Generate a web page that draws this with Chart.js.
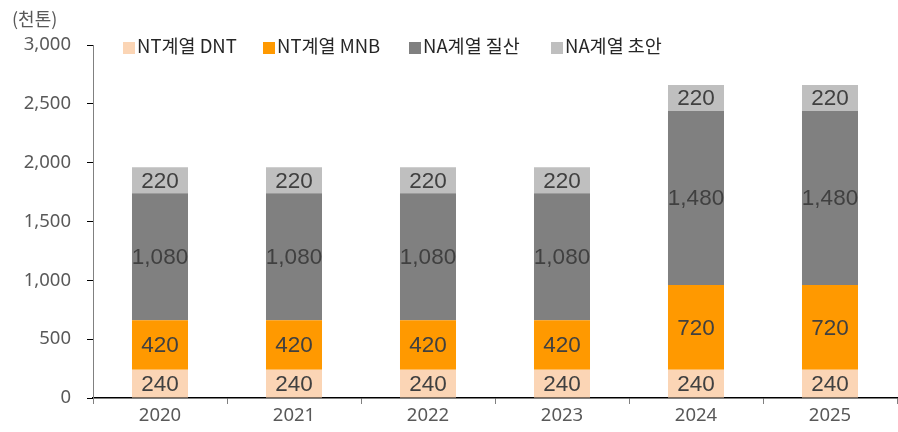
<!DOCTYPE html>
<html><head><meta charset="utf-8">
<script src="https://cdn.jsdelivr.net/npm/chart.js@4/dist/chart.umd.min.js"></script>
<style>
html,body{margin:0;padding:0;background:#fff;}
#wrap{position:relative;width:898px;height:432px;}
#unit{position:absolute;left:12px;top:5px;font:18px "Noto Sans CJK KR","Noto Sans",sans-serif;color:#595959;}
.leg{position:absolute;top:32px;font:18.5px "Noto Sans CJK KR","Noto Sans",sans-serif;color:#262626;white-space:nowrap;line-height:26px;}
.leg i{display:inline-block;width:12px;height:12px;margin-right:2px;vertical-align:-1px;}
</style></head><body>
<div id="wrap">
<canvas id="c" width="898" height="432"></canvas>
<div id="unit">(천톤)</div>
<div id="legend"></div>
</div>
<script>
const categories = ['2020','2021','2022','2023','2024','2025'];
const seriesNames = ['NT계열 DNT','NT계열 MNB','NA계열 질산','NA계열 초안'];
const dnt = [240,240,240,240,240,240];
const mnb = [420,420,420,420,720,720];
const nitric = [1080,1080,1080,1080,1480,1480];
const an = [220,220,220,220,220,220];
const yTicks = [0,500,1000,1500,2000,2500,3000];
const colors = ['#FBD5B5','#FF9900','#808080','#BFBFBF'];
const legendX = [123,263,409,551];

const legEl = document.getElementById('legend');
seriesNames.forEach((n,i)=>{
  const d=document.createElement('div');d.className='leg';d.style.left=legendX[i]+'px';
  d.innerHTML='<i style="background:'+colors[i]+'"></i>'+n;legEl.appendChild(d);
});

const valueLabels = {
  id:'valueLabels',
  afterDatasetsDraw(chart){
    const ctx=chart.ctx;ctx.save();
    ctx.font='22.5px "Liberation Sans", Arial, sans-serif';
    ctx.fillStyle='#404040';ctx.textAlign='center';ctx.textBaseline='middle';
    chart.data.datasets.forEach((ds,di)=>{
      chart.getDatasetMeta(di).data.forEach((el,i)=>{
        const p=el.getProps(['x','y','base'],true);
        ctx.fillText(ds.data[i].toLocaleString('en-US'),p.x,(p.y+p.base)/2+1);
      });
    });
    ctx.restore();
  }
};

const dataArr=[dnt,mnb,nitric,an];
new Chart(document.getElementById('c'),{
  type:'bar',
  data:{labels:categories,datasets:seriesNames.map((n,i)=>({label:n,data:dataArr[i],backgroundColor:colors[i],categoryPercentage:1,barPercentage:0.418}))},
  options:{
    responsive:false,animation:false,
    layout:{padding:{top:45,right:1,left:0,bottom:0}},
    plugins:{legend:{display:false},tooltip:{enabled:false}},
    scales:{
      x:{stacked:true,
        grid:{display:true,drawOnChartArea:false,drawTicks:true,tickLength:6,color:'#808080',offset:true},
        border:{display:true,color:'#000000',width:1.5},
        ticks:{font:{size:18.5,family:'"Noto Sans","Noto Sans CJK KR",sans-serif'},color:'#595959',padding:1},
        afterFit(s){s.height=34;}
      },
      y:{stacked:true,min:0,max:3000,
        afterBuildTicks(s){s.ticks=yTicks.map(v=>({value:v}));},
        grid:{display:true,drawOnChartArea:false,drawTicks:true,tickLength:6,color:'#000000'},
        border:{display:true,color:'#808080',width:1},
        ticks:{font:{size:18.5,family:'"Noto Sans","Noto Sans CJK KR",sans-serif'},color:'#595959',padding:16,
          callback:v=>v.toLocaleString('en-US')},
        afterFit(s){s.width=93;}
      }
    }
  },
  plugins:[valueLabels]
});
</script>
</body></html>
